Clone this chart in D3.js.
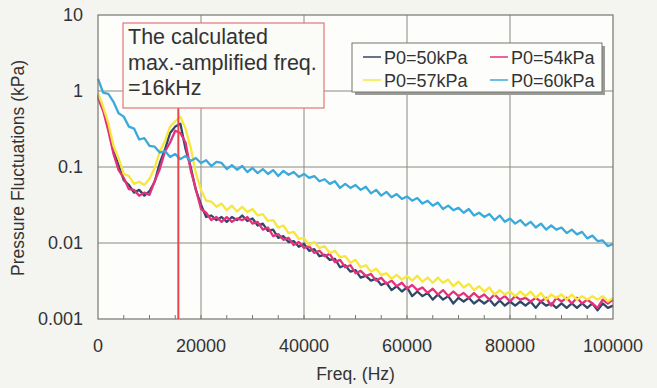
<!DOCTYPE html>
<html>
<head>
<meta charset="utf-8">
<script src="https://cdn.jsdelivr.net/npm/d3@7"></script>
<style>
    body { margin: 0; background: #f4f4f0; }
    svg { display: block; font-family: 'Liberation Sans', Arial, sans-serif; }
    .tick-label { font-size: 18px; fill: #333; }
    .title { font-size: 17.5px; fill: #333; }
</style>
</head>
<body>
<div id="vis"></div>
<script>
// sample points every 1 kHz, 0 .. 100 kHz
var freqs = d3.range(0, 100001, 1000);

var seriesNames = ['P0=50kPa', 'P0=54kPa', 'P0=57kPa', 'P0=60kPa'];
var seriesColors = ['#2f4868', '#e4317b', '#f7e73c', '#3aa9dc'];

var p50 = [0.88,0.58,0.34,0.16,0.106,0.067,0.058,0.046,0.050,0.042,
    0.048,0.064,0.113,0.17,0.28,0.34,0.37,0.173,0.1,0.050,
    0.032,0.022,0.023,0.020,0.022,0.019,0.022,0.020,0.023,0.0195,
    0.021,0.017,0.018,0.0144,0.0150,0.0117,0.0123,0.0103,0.0106,0.0089,
    0.0097,0.0079,0.0083,0.0067,0.0070,0.0060,0.0062,0.0048,0.0051,0.0042,
    0.0044,0.0035,0.0037,0.0032,0.0034,0.0028,0.0030,0.0024,0.0027,0.0023,
    0.0026,0.0020,0.0023,0.0020,0.0022,0.0018,0.0021,0.0018,0.0020,0.0016,
    0.0019,0.0017,0.0019,0.0016,0.0018,0.0016,0.0018,0.0015,0.00175,0.0015,
    0.0017,0.0015,0.0017,0.0015,0.0017,0.0014,0.0017,0.0015,0.0016,0.0014,
    0.0016,0.0014,0.0016,0.0014,0.0016,0.0014,0.0016,0.0013,0.0016,0.0014,
    0.0015];

var p54 = [0.81,0.55,0.30,0.15,0.091,0.072,0.051,0.050,0.042,0.046,
    0.043,0.065,0.094,0.16,0.21,0.30,0.28,0.21,0.091,0.051,
    0.028,0.025,0.020,0.022,0.019,0.022,0.019,0.021,0.020,0.022,
    0.018,0.019,0.015,0.016,0.0123,0.0131,0.011,0.0117,0.0094,0.0103,
    0.0086,0.0091,0.0074,0.0079,0.0067,0.0072,0.0056,0.0060,0.0048,0.0051,
    0.0040,0.0043,0.0037,0.0039,0.0032,0.0035,0.0029,0.0032,0.0027,0.0030,
    0.0025,0.0028,0.0024,0.0026,0.0022,0.0025,0.0021,0.0024,0.0020,0.0023,
    0.0020,0.0022,0.0019,0.0022,0.0019,0.0021,0.0018,0.0021,0.0018,0.0020,
    0.0017,0.0020,0.0018,0.0019,0.0017,0.0019,0.0017,0.0019,0.0015,0.0019,
    0.0017,0.0019,0.0016,0.0019,0.0016,0.0018,0.0016,0.0014,0.0018,0.0016,
    0.0018];

var p57 = [0.94,0.62,0.38,0.19,0.13,0.081,0.076,0.060,0.064,0.058,
    0.070,0.097,0.16,0.22,0.34,0.40,0.46,0.32,0.18,0.083,
    0.050,0.036,0.035,0.030,0.033,0.027,0.031,0.026,0.030,0.0256,
    0.028,0.023,0.024,0.0195,0.020,0.016,0.017,0.0135,0.014,0.0113,
    0.0117,0.0094,0.0103,0.0086,0.0091,0.0074,0.0079,0.0065,0.0067,0.0055,
    0.0060,0.0048,0.0051,0.0042,0.0046,0.0038,0.0040,0.0034,0.0038,0.0033,
    0.0037,0.0032,0.0037,0.0031,0.0035,0.0030,0.0035,0.0030,0.0033,0.0027,
    0.0031,0.0026,0.0029,0.0024,0.0027,0.0023,0.0026,0.0021,0.0024,0.0021,
    0.0023,0.0020,0.0023,0.0020,0.0023,0.0019,0.0022,0.0018,0.0021,0.0019,
    0.0021,0.0018,0.0021,0.0018,0.0020,0.0018,0.0020,0.0018,0.0020,0.0017,
    0.0019];

var p60 = [1.45,0.95,0.92,0.72,0.51,0.46,0.34,0.32,0.23,0.24,
    0.19,0.185,0.155,0.162,0.135,0.148,0.127,0.140,0.120,0.131,
    0.113,0.123,0.103,0.117,0.113,0.094,0.106,0.092,0.103,0.086,
    0.097,0.083,0.094,0.081,0.091,0.076,0.089,0.079,0.086,0.074,
    0.081,0.072,0.076,0.065,0.069,0.060,0.065,0.053,0.060,0.053,
    0.058,0.050,0.055,0.045,0.050,0.042,0.047,0.040,0.044,0.038,
    0.041,0.036,0.039,0.033,0.036,0.031,0.034,0.028,0.031,0.027,
    0.029,0.025,0.028,0.023,0.025,0.022,0.024,0.020,0.023,0.019,
    0.021,0.018,0.020,0.017,0.019,0.016,0.018,0.015,0.017,0.015,
    0.016,0.0135,0.015,0.013,0.014,0.0115,0.0125,0.0106,0.0108,0.0091,
    0.0097];

var xTicks = [0, 20000, 40000, 60000, 80000, 100000];
var yTicks = [0.001, 0.01, 0.1, 1, 10];
var yTickLabels = ['0.001', '0.01', '0.1', '1', '10'];

// calculated max.-amplified frequency marker
var markFreq = 15600;
var noteLines = ['The calculated', 'max.-amplified freq.', '=16kHz'];

var margin = { left: 98, top: 15, right: 44, bottom: 69 };
var W = 657, H = 388;
var width = W - margin.left - margin.right;
var height = H - margin.top - margin.bottom;

var svg = d3.select('#vis')
    .append('svg')
    .attr('width', W)
    .attr('height', H);

var g = svg.append('g')
    .attr('transform', 'translate(' + margin.left + ',' + margin.top + ')');

var xScale = d3.scaleLinear().domain([0, 100000]).range([0, width]);
var yScale = d3.scaleLog().domain([0.001, 10]).range([height, 0]);

// plot background
g.append('rect')
    .attr('width', width)
    .attr('height', height)
    .attr('fill', '#fdfdfb');

// grid
g.selectAll('.vgrid').data(xTicks.slice(1, -1)).enter()
    .append('line')
    .attr('x1', function(d) { return xScale(d); })
    .attr('x2', function(d) { return xScale(d); })
    .attr('y1', 0).attr('y2', height)
    .attr('stroke', '#8a8a82').attr('stroke-width', 1);

g.selectAll('.hgrid').data(yTicks.slice(1, -1)).enter()
    .append('line')
    .attr('y1', function(d) { return yScale(d); })
    .attr('y2', function(d) { return yScale(d); })
    .attr('x1', 0).attr('x2', width)
    .attr('stroke', '#8a8a82').attr('stroke-width', 1);

// minor ticks on x axis every 5000
g.selectAll('.minor').data(d3.range(5000, 100000, 5000)).enter()
    .append('line')
    .attr('x1', function(d) { return xScale(d); })
    .attr('x2', function(d) { return xScale(d); })
    .attr('y1', height).attr('y2', height - 4)
    .attr('stroke', '#777').attr('stroke-width', 1);

// series
var series = [p50, p54, p57, p60];
var line = d3.line()
    .x(function(d, i) { return xScale(freqs[i]); })
    .y(function(d) { return yScale(d); });

series.forEach(function(s, k) {
    g.append('path')
        .datum(s)
        .attr('d', line)
        .attr('fill', 'none')
        .attr('stroke', seriesColors[k])
        .attr('stroke-width', 2.3)
        .attr('stroke-linejoin', 'round');
});

// frame
g.append('rect')
    .attr('width', width)
    .attr('height', height)
    .attr('fill', 'none')
    .attr('stroke', '#77776f')
    .attr('stroke-width', 1.2);

// annotation box + red marker line
var noteBox = { x: 25, y: 8, w: 201, h: 85 };
g.append('line')
    .attr('x1', xScale(markFreq)).attr('x2', xScale(markFreq))
    .attr('y1', noteBox.y + noteBox.h).attr('y2', height)
    .attr('stroke', '#e8454c').attr('stroke-width', 2);

g.append('rect')
    .attr('x', noteBox.x).attr('y', noteBox.y)
    .attr('width', noteBox.w).attr('height', noteBox.h)
    .attr('fill', '#fbfbf8')
    .attr('stroke', '#e77476').attr('stroke-width', 1.2);

g.selectAll('.note').data(noteLines).enter()
    .append('text')
    .attr('x', noteBox.x + 5)
    .attr('y', function(d, i) { return noteBox.y + 21 + i * 25.5; })
    .attr('font-size', '21.5px')
    .attr('fill', '#333')
    .text(function(d) { return d; });

// legend
var lg = g.append('g').attr('transform', 'translate(254,28)');
lg.append('rect')
    .attr('x', 3).attr('y', 3).attr('width', 250).attr('height', 49)
    .attr('fill', '#9a9a96');
lg.append('rect')
    .attr('width', 250).attr('height', 49)
    .attr('fill', '#fdfdfb')
    .attr('stroke', '#77776f').attr('stroke-width', 1);

var items = lg.selectAll('.item').data(seriesNames).enter()
    .append('g')
    .attr('transform', function(d, i) {
        return 'translate(' + (i % 2 === 0 ? 11 : 138) + ',' + (i < 2 ? 14 : 37) + ')';
    });
items.append('line')
    .attr('x1', 0).attr('x2', 18)
    .attr('stroke', function(d, i) { return seriesColors[i]; })
    .attr('stroke-width', 1.5);
items.append('text')
    .attr('x', 21).attr('y', 7)
    .attr('font-size', '18px')
    .attr('fill', '#333')
    .text(function(d) { return d; });

// axes labels
svg.selectAll('.xlab').data(xTicks).enter()
    .append('text')
    .attr('class', 'tick-label')
    .attr('x', function(d) { return margin.left + xScale(d); })
    .attr('y', margin.top + height + 33)
    .attr('text-anchor', 'middle')
    .text(function(d) { return d; });

svg.selectAll('.ylab').data(yTicks).enter()
    .append('text')
    .attr('class', 'tick-label')
    .attr('x', margin.left - 15)
    .attr('y', function(d) { return margin.top + yScale(d) + 6; })
    .attr('text-anchor', 'end')
    .text(function(d, i) { return yTickLabels[i]; });

svg.append('text')
    .attr('class', 'title')
    .attr('x', margin.left + width / 2)
    .attr('y', 380)
    .attr('text-anchor', 'middle')
    .text('Freq. (Hz)');

svg.append('text')
    .attr('class', 'title')
    .attr('transform', 'translate(24,' + 168 + ') rotate(-90)')
    .attr('text-anchor', 'middle')
    .text('Pressure Fluctuations (kPa)');
</script>
</body>
</html>
